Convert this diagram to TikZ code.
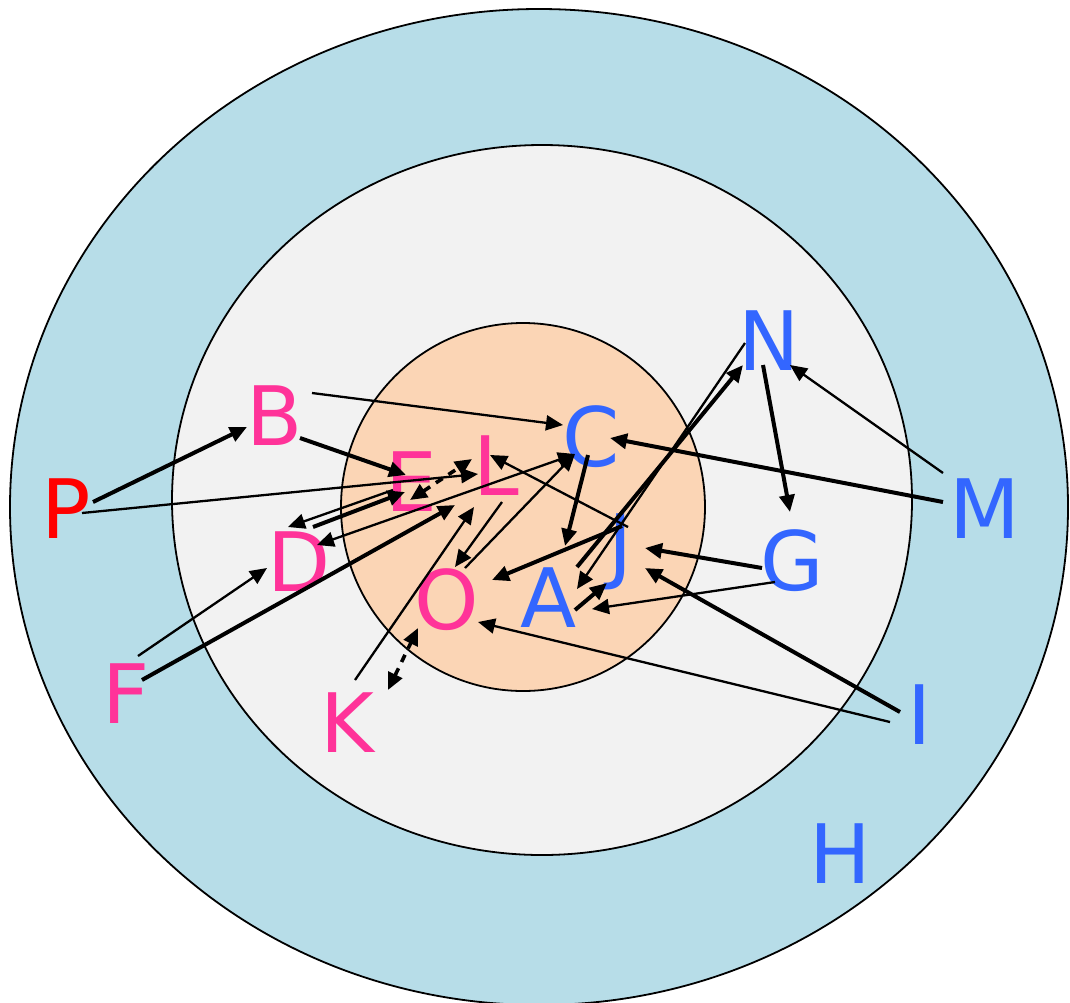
\documentclass[tikz,border=0pt]{standalone}
\usepackage{fontspec}
\setmainfont{DejaVu Sans}
\usetikzlibrary{arrows.meta, calc}

\definecolor{ringout}{HTML}{B7DDE8}
\definecolor{ringmid}{HTML}{F2F2F2}
\definecolor{ringin}{HTML}{FBD5B5}
\definecolor{lblpink}{HTML}{FF3399}
\definecolor{lblred}{HTML}{FF0000}
\definecolor{lblblue}{HTML}{3366FF}

\begin{document}
\begin{tikzpicture}[
    x=1pt, y=-1pt,
    >={Triangle[length=17pt, width=15pt]},
    zone/.style={draw=black, line width=1.8pt},
    lbl/.style={inner sep=0pt, font=\fontsize{82}{82}\selectfont, text height=60pt, text depth=0pt},
    pinklbl/.style={lbl, text=lblpink},
    redlbl/.style={lbl, text=lblred},
    bluelbl/.style={lbl, text=lblblue},
    link/.style={->, line width=2.3pt},
    boldlink/.style={->, line width=4pt},
    dlink/.style={<->, line width=3.6pt, dash pattern=on 8pt off 7pt}
]
\useasboundingbox (0,0) rectangle (1070,1002);

% ZONES
\draw[zone, fill=ringout] (539,507) ellipse [x radius=529, y radius=498];
\draw[zone, fill=ringmid] (542,500) ellipse [x radius=370, y radius=355];
\draw[zone, fill=ringin] (523,507) ellipse [x radius=182, y radius=184];

% LABELS
\node[redlbl] (P) at (66,508) {P};
\node[pinklbl] (B) at (275,415) {B};
\node[pinklbl] (E) at (411,481) {E};
\node[pinklbl] (L) at (496,465) {L};
\node[pinklbl] (D) at (299,561) {D};
\node[pinklbl] (O) at (447,599) {O};
\node[pinklbl] (F) at (126,693) {F};
\node[pinklbl] (K) at (347,722) {K};
\node[bluelbl] (C) at (591,436) {C};
\node[bluelbl] (N) at (769,340) {N};
\node[bluelbl] (M) at (985,508) {M};
\node[bluelbl] (J) at (621,543) {J};
\node[bluelbl] (G) at (792,560) {G};
\node[bluelbl] (A) at (549,597) {A};
\node[bluelbl] (I) at (920,714) {I};
\node[bluelbl] (H) at (840,853) {H};

% ARROWS - LEFT SIDE
\draw[boldlink] ($(P)+(27,-6)$) -- ($(B)+(-28,12)$);
\draw[link] ($(P)+(16,5)$) -- ($(L)+(-18,9)$);
\draw[link] ($(B)+(37,-22)$) -- ($(C)+(-28,-11)$);
\draw[boldlink] ($(B)+(25,23)$) -- ($(E)+(-5,-6)$);
\draw[link] ($(E)+(-18,9)$) -- ($(D)+(-11,-34)$);
\draw[boldlink] ($(D)+(14,-34)$) -- ($(E)+(-6,11)$);
\draw[link, <->] ($(D)+(18,-16)$) -- ($(C)+(-16,18)$);
\draw[link] ($(F)+(12,-37)$) -- ($(D)+(-32,7)$);
\draw[boldlink] ($(F)+(16,-13)$) -- ($(L)+(-41,40)$);
\draw[link] ($(K)+(8,-42)$) -- ($(L)+(-22,42)$);

% ARROWS - CENTRE
\draw[link] ($(L)+(6,37)$) -- ($(O)+(8,-32)$);
\draw[link] ($(O)+(18,-31)$) -- ($(C)+(-16,18)$);
\draw[dlink] ($(E)+(-1,19)$) -- ($(L)+(-24,-6)$);
\draw[dlink] ($(K)+(41,-32)$) -- ($(O)+(-29,29)$);
\draw[link] ($(J)+(7,-16)$) -- ($(L)+(-6,-10)$);
\draw[boldlink] ($(C)+(-3,19)$) -- ($(A)+(16,-51)$);
\draw[boldlink] ($(J)+(1,-17)$) -- ($(O)+(45,-19)$);
\draw[boldlink] ($(A)+(26,13)$) -- ($(J)+(-14,40)$);

% ARROWS - RIGHT SIDE
\draw[boldlink] ($(M)+(-42,-6)$) -- ($(C)+(19,2)$);
\draw[link] ($(M)+(-42,-35)$) -- ($(N)+(21,25)$);
\draw[boldlink] ($(N)+(-6,25)$) -- ($(G)+(-2,-48)$);
\draw[boldlink] ($(A)+(28,-30)$) -- ($(N)+(-26,25)$);
\draw[link] ($(N)+(-24,3)$) -- ($(A)+(28,-8)$);
\draw[boldlink] ($(G)+(-30,8)$) -- ($(J)+(24,5)$);
\draw[link] ($(G)+(-17,22)$) -- ($(A)+(43,12)$);
\draw[boldlink] ($(I)+(-20,-2)$) -- ($(J)+(24,25)$);
\draw[link] ($(I)+(-30,8)$) -- ($(O)+(31,23)$);

\end{tikzpicture}
\end{document}
